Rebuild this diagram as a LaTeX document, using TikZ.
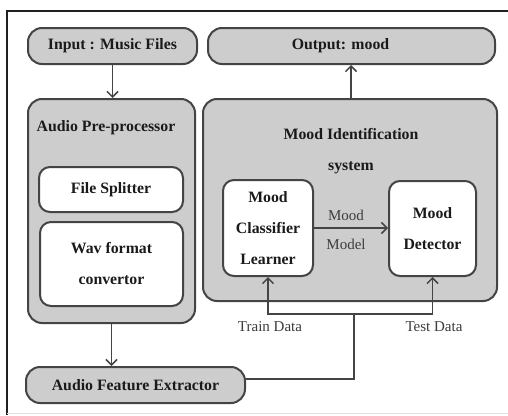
\documentclass[tikz,border=0pt]{standalone}
\usepackage{fontspec}
\setmainfont{Liberation Serif}
\usetikzlibrary{arrows.meta}
\definecolor{boxgray}{HTML}{CDCDCD}
\definecolor{linec}{HTML}{444444}
\definecolor{textc}{HTML}{1A1A1A}
\definecolor{framec}{HTML}{202020}
\begin{document}
\begin{tikzpicture}[x=1pt,y=-1pt,
  grayb/.style={draw=linec, fill=boxgray, line width=2pt, rounded corners=14pt, inner sep=0pt},
  whiteb/.style={draw=linec, fill=white, line width=2pt, rounded corners=11pt, inner sep=0pt},
  bt/.style={font=\fontsize{15.8}{31}\selectfont\bfseries, text=textc, align=center, inner sep=0pt},
  nt/.style={font=\fontsize{15}{18}\selectfont, text=textc!85, inner sep=0pt},
  conn/.style={draw=linec, line width=1.5pt},
  arr/.style={conn, -{Straight Barb[length=5.5pt,width=11pt,line width=1.5pt]}}]
\useasboundingbox (0,0) rectangle (508,415);
\fill[white] (0,0) rectangle (508,415);
\draw[framec, line width=1.6pt] (7,415) -- (7,11) -- (508,11);
\draw[black!12, line width=1pt] (7,413) -- (508,413);

% top boxes
\node[grayb, minimum width=169pt, minimum height=36pt, bt] (in) at (112.5,46) {Input : Music Files};
\node[grayb, minimum width=287pt, minimum height=36pt] (out) at (351.5,46) {};
\node[bt] (outt) at (340.5,46) {Output: mood};

% pre-processor
\node[grayb, minimum width=167pt, minimum height=224pt] (pre) at (111.5,211) {};
\node[bt] (pret) at (106,128) {Audio Pre-processor};
\node[whiteb, minimum width=144pt, minimum height=45pt, bt] (fs) at (111,189.5) {File Splitter};
\node[whiteb, minimum width=143pt, minimum height=84pt, bt] (wav) at (111.5,264) {Wav format\\convertor};

% mood identification system
\node[grayb, minimum width=294pt, minimum height=202pt] (mis) at (350,200) {};
\node[bt] (mist) at (351,151) {Mood Identification\\system};
\node[whiteb, minimum width=90pt, minimum height=96pt, bt] (mcl) at (268,228) {Mood\\Classifier\\Learner};
\node[whiteb, minimum width=87pt, minimum height=95pt, bt] (mdet) at (432.5,228.5) {Mood\\Detector};

% feature extractor
\node[grayb, minimum width=219pt, minimum height=36pt, bt] (fe) at (135.5,385) {Audio Feature Extractor};

% labels
\node[nt] (mm1) at (346,215) {Mood};
\node[nt] (mm2) at (346,244) {Model};
\node[nt] (trd) at (270,327) {Train Data};
\node[nt] (ted) at (434,327) {Test Data};

% connectors
\draw[arr] (in.south) -- (in.south |- pre.north);
\draw[arr] (pre.south) -- (pre.south |- fe.north);
\draw[arr] (mis.north -| mist) -- (mist |- out.south);
\draw[arr] (mcl.east) -- (mcl.east -| mdet.west);
\coordinate (j) at (354,314);
\draw[conn] ([yshift=6pt]fe.east) -| (j);
\draw[arr] (j) -| (mcl.south);
\draw[arr] (j) -| (mdet.south);
\end{tikzpicture}
\end{document}
